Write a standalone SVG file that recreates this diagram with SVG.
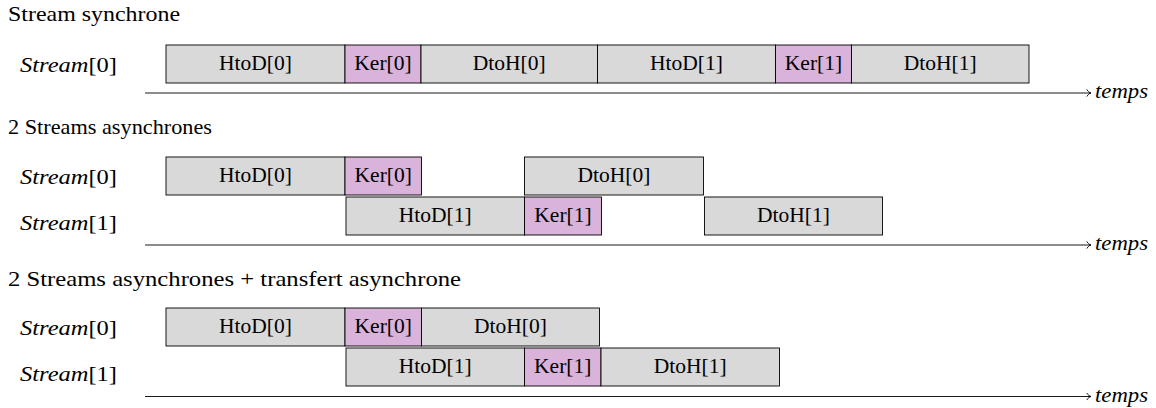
<svg xmlns="http://www.w3.org/2000/svg" width="1156" height="408" viewBox="0 0 1156 408">
<style>
text{font-family:'Liberation Serif','DejaVu Serif',serif;font-size:21.5px;fill:#000}
.t{text-anchor:middle}
.it{font-style:italic}
.g{fill:#d9d9d9;stroke:#000;stroke-width:0.9}
.k{fill:#d9b3d9;stroke:#000;stroke-width:0.9}
.ax{stroke:#000;stroke-width:0.9;fill:none;marker-end:url(#to)}
</style>
<defs>
<marker id="to" viewBox="-6 -5 8 10" refX="0" refY="0" markerWidth="8" markerHeight="10" markerUnits="userSpaceOnUse" orient="auto">
<path d="M-4,-3.2 C-3,-1.2 -1.3,-0.3 0,0 C-1.3,0.3 -3,1.2 -4,3.2" fill="none" stroke="#000" stroke-width="0.9" stroke-linecap="round"/>
</marker>
</defs>

<g id="titles">
<text x="8" y="20.5" textLength="172" lengthAdjust="spacingAndGlyphs">Stream synchrone</text>
<text x="8" y="134" textLength="204" lengthAdjust="spacingAndGlyphs">2 Streams asynchrones</text>
<text x="8" y="286" textLength="453" lengthAdjust="spacingAndGlyphs">2 Streams asynchrones + transfert asynchrone</text>
</g>

<g id="labels">
<text x="20" y="71.5" textLength="97" lengthAdjust="spacingAndGlyphs"><tspan class="it">Stream</tspan>[0]</text>
<text x="20" y="183.5" textLength="97" lengthAdjust="spacingAndGlyphs"><tspan class="it">Stream</tspan>[0]</text>
<text x="20" y="230" textLength="97" lengthAdjust="spacingAndGlyphs"><tspan class="it">Stream</tspan>[1]</text>
<text x="20" y="334.5" textLength="97" lengthAdjust="spacingAndGlyphs"><tspan class="it">Stream</tspan>[0]</text>
<text x="20" y="381" textLength="97" lengthAdjust="spacingAndGlyphs"><tspan class="it">Stream</tspan>[1]</text>
</g>

<g id="connectors">
<line class="ax" x1="145" y1="93" x2="1091" y2="93"/>
<line class="ax" x1="145" y1="245" x2="1091" y2="245"/>
<line class="ax" x1="145" y1="396.5" x2="1091" y2="396.5"/>
<text class="it" x="1095" y="98" textLength="53" lengthAdjust="spacingAndGlyphs">temps</text>
<text class="it" x="1095" y="250" textLength="53" lengthAdjust="spacingAndGlyphs">temps</text>
<text class="it" x="1095" y="401.5" textLength="53" lengthAdjust="spacingAndGlyphs">temps</text>
</g>

<!-- Section 1 -->
<g id="s1-htod0"><rect class="g" x="166" y="45" width="179" height="38"/><text class="t" x="255.5" y="69.5">HtoD[0]</text></g>
<g id="s1-ker0"><rect class="k" x="345" y="45" width="76" height="38"/><text class="t" x="383" y="69.5">Ker[0]</text></g>
<g id="s1-dtoh0"><rect class="g" x="421" y="45" width="176.5" height="38"/><text class="t" x="509.25" y="69.5">DtoH[0]</text></g>
<g id="s1-htod1"><rect class="g" x="597.5" y="45" width="178" height="38"/><text class="t" x="686.5" y="69.5">HtoD[1]</text></g>
<g id="s1-ker1"><rect class="k" x="775.5" y="45" width="76" height="38"/><text class="t" x="813.5" y="69.5">Ker[1]</text></g>
<g id="s1-dtoh1"><rect class="g" x="851.5" y="45" width="177.5" height="38"/><text class="t" x="940.25" y="69.5">DtoH[1]</text></g>

<!-- Section 2 -->
<g id="s2-htod0"><rect class="g" x="166" y="157" width="179" height="38"/><text class="t" x="255.5" y="181.5">HtoD[0]</text></g>
<g id="s2-ker0"><rect class="k" x="345" y="157" width="76.5" height="38"/><text class="t" x="383.25" y="181.5">Ker[0]</text></g>
<g id="s2-dtoh0"><rect class="g" x="524.5" y="157" width="179" height="38"/><text class="t" x="614" y="181.5">DtoH[0]</text></g>
<g id="s2-htod1"><rect class="g" x="346" y="197" width="178.5" height="38"/><text class="t" x="435.25" y="221.5">HtoD[1]</text></g>
<g id="s2-ker1"><rect class="k" x="524.5" y="197" width="77" height="38"/><text class="t" x="563" y="221.5">Ker[1]</text></g>
<g id="s2-dtoh1"><rect class="g" x="704.5" y="197" width="178" height="38"/><text class="t" x="793.5" y="221.5">DtoH[1]</text></g>

<!-- Section 3 -->
<g id="s3-htod0"><rect class="g" x="166" y="308" width="179" height="38"/><text class="t" x="255.5" y="332.5">HtoD[0]</text></g>
<g id="s3-ker0"><rect class="k" x="345" y="308" width="76.5" height="38"/><text class="t" x="383.25" y="332.5">Ker[0]</text></g>
<g id="s3-dtoh0"><rect class="g" x="421.5" y="308" width="178" height="38"/><text class="t" x="510.5" y="332.5">DtoH[0]</text></g>
<g id="s3-htod1"><rect class="g" x="346" y="348" width="178.5" height="38"/><text class="t" x="435.25" y="372.5">HtoD[1]</text></g>
<g id="s3-ker1"><rect class="k" x="524.5" y="348" width="76.5" height="38"/><text class="t" x="562.75" y="372.5">Ker[1]</text></g>
<g id="s3-dtoh1"><rect class="g" x="601" y="348" width="178.5" height="38"/><text class="t" x="690.25" y="372.5">DtoH[1]</text></g>
</svg>
